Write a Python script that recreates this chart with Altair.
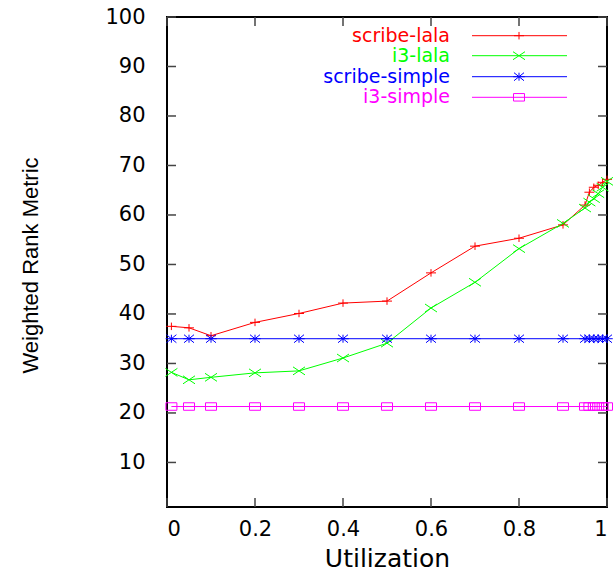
import altair as alt
import pandas as pd

# ---- data ----
utilization = [0.01, 0.05, 0.1, 0.2, 0.3, 0.4, 0.5, 0.6, 0.7, 0.8, 0.9,
               0.95, 0.96, 0.97, 0.98, 0.99, 1.0]
scribe_lala = [37.5, 37.2, 35.6, 38.3, 40.1, 42.2, 42.6, 48.3, 53.7, 55.3, 58.0,
               62.0, 64.6, 65.6, 66.0, 66.6, 67.2]
i3_lala = [28.2, 26.7, 27.2, 28.1, 28.5, 31.1, 34.1, 41.2, 46.4, 53.2, 58.3,
           61.4, 62.6, 63.3, 64.3, 65.6, 66.8]
scribe_simple = [35.0, 35.0, 35.0, 35.0, 35.0, 35.0, 35.0, 35.0, 35.0, 35.0, 35.0,
                 35.0, 35.0, 35.0, 35.0, 35.0, 35.0]
i3_simple = [21.3, 21.3, 21.3, 21.3, 21.3, 21.3, 21.3, 21.3, 21.3, 21.3, 21.3,
             21.3, 21.3, 21.3, 21.3, 21.3, 21.3]

series_names = ["scribe-lala", "i3-lala", "scribe-simple", "i3-simple"]
series_values = [scribe_lala, i3_lala, scribe_simple, i3_simple]
colors = ["#ff0000", "#00ff00", "#0000ff", "#ff00ff"]

y_ticks = [10, 20, 30, 40, 50, 60, 70, 80, 90, 100]
x_ticks = [0, 0.2, 0.4, 0.6, 0.8, 1.0]

# ---- marker shapes (gnuplot-like) ----
shapes = [
    "M-1,0H1M0,-0.75V0.75",                                   # +
    "M-1.2,-0.8L1.2,0.8M-1.2,0.8L1.2,-0.8",                   # x
    "M-1.15,0H1.15M0,-0.8V0.8M-1,-0.8L1,0.8M-1,0.8L1,-0.8",   # *
    "M-1.1,-0.75H1.1V0.75H-1.1Z",                             # open square
]

rows = []
for name, vals in zip(series_names, series_values):
    for xv, yv in zip(utilization, vals):
        rows.append({"series": name, "u": xv, "v": yv})
df = pd.DataFrame(rows)

W, H = 440, 490
FONT = "DejaVu Sans"

xscale = alt.Scale(domain=[0, 1], nice=False, zero=False)
yscale = alt.Scale(domain=[1, 100], nice=False, zero=False)
cscale = alt.Scale(domain=series_names, range=colors)
sscale = alt.Scale(domain=series_names, range=shapes)

x_axis = alt.Axis(values=x_ticks, format="~g", title="Utilization",
                  titleX=220, titleY=51, titleBaseline="middle",
                  titleAlign="center")
y_axis = alt.Axis(values=y_ticks, title="Weighted Rank Metric",
                  titleX=-137, titleY=248, titleAngle=-90,
                  titleAlign="center", titleBaseline="middle",
                  titleFont="Liberation Sans", titleFontSize=22)

base = alt.Chart(df)

lines = base.mark_line(strokeWidth=1, clip=False).encode(
    x=alt.X("u:Q", scale=xscale, axis=x_axis),
    y=alt.Y("v:Q", scale=yscale, axis=y_axis),
    color=alt.Color("series:N", scale=cscale, legend=None),
    detail="series:N",
)

points = base.mark_point(filled=False, strokeWidth=1, size=100, opacity=1).encode(
    x=alt.X("u:Q", scale=xscale, axis=x_axis),
    y=alt.Y("v:Q", scale=yscale, axis=y_axis),
    color=alt.Color("series:N", scale=cscale, legend=None),
    shape=alt.Shape("series:N", scale=sscale, legend=None),
)

# inward ticks on all four sides (mirror ticks)
ytick_df = pd.DataFrame({"v": y_ticks})
xtick_df = pd.DataFrame({"u": x_ticks})
TICK = 9
tick_color = "#444444"
ytl = alt.Chart(ytick_df).mark_rule(color=tick_color, strokeWidth=1.5).encode(
    y=alt.Y("v:Q", scale=yscale, axis=y_axis), x=alt.value(0), x2=alt.value(TICK))
ytr = alt.Chart(ytick_df).mark_rule(color=tick_color, strokeWidth=1.5).encode(
    y=alt.Y("v:Q", scale=yscale, axis=y_axis), x=alt.value(W - TICK), x2=alt.value(W))
xtb = alt.Chart(xtick_df).mark_rule(color=tick_color, strokeWidth=1.5).encode(
    x=alt.X("u:Q", scale=xscale, axis=x_axis), y=alt.value(H - TICK), y2=alt.value(H))
xtt = alt.Chart(xtick_df).mark_rule(color=tick_color, strokeWidth=1.5).encode(
    x=alt.X("u:Q", scale=xscale, axis=x_axis), y=alt.value(0), y2=alt.value(TICK))

# gnuplot-style key: label right-aligned, then line sample with marker
legend_layers = []
row_y = [18.7, 38.7, 59.7, 80.3]
key_df = pd.DataFrame({"series": series_names})
for i, name in enumerate(series_names):
    kd = alt.Chart(key_df).transform_filter(alt.datum.series == name)
    legend_layers.append(kd.mark_text(align="right", baseline="middle",
                                      font=FONT, fontSize=19, color=colors[i]).encode(
        text="series:N", x=alt.value(283), y=alt.value(row_y[i])))
    legend_layers.append(kd.mark_rule(color=colors[i], strokeWidth=1).encode(
        x=alt.value(305), x2=alt.value(400), y=alt.value(row_y[i])))
    legend_layers.append(kd.mark_point(filled=False, strokeWidth=1, size=100,
                                       opacity=1, color=colors[i],
                                       shape=shapes[i]).encode(
        x=alt.value(352), y=alt.value(row_y[i])))

chart = alt.layer(lines, points, ytl, ytr, xtb, xtt, *legend_layers).properties(
    width=W, height=H,
    autosize=alt.AutoSizeParams(type="none"),
    padding={"left": 167, "top": 17, "right": 7, "bottom": 67},
    background="white",
).configure_view(
    stroke="black", strokeWidth=2
).configure_axis(
    labelFont=FONT, labelFontSize=21, labelColor="black",
    titleFont=FONT, titleFontSize=25, titleFontWeight="normal", titleColor="black",
    ticks=False, domain=False, grid=False,
).configure_axisY(
    labelPadding=22,
).configure_axisX(
    labelPadding=11,
)

chart.save("out.html", embed_options={"renderer": "svg", "actions": False})
